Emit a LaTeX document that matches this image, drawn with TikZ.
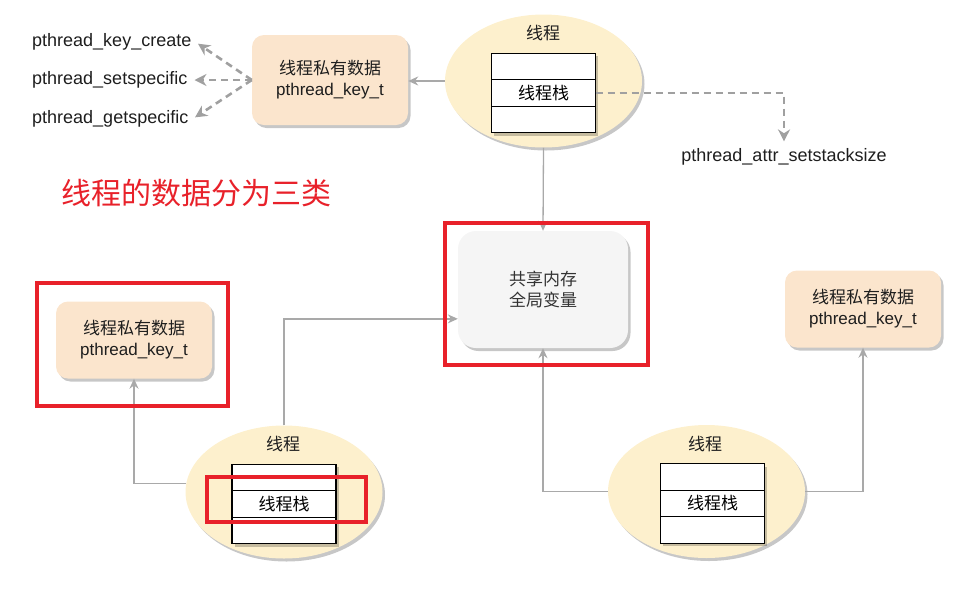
\documentclass[tikz,border=0pt]{standalone}
\usepackage{fontspec}
\setmainfont{Liberation Sans}
\newfontfamily\cjk{Noto Sans CJK SC}
\usepackage{xcolor}
\usetikzlibrary{shapes.geometric,arrows.meta,calc,positioning,shadows}
\definecolor{threadfill}{HTML}{FDF0CD}
\definecolor{keyfill}{HTML}{FBE5CD}
\definecolor{memfill}{HTML}{F5F5F5}
\definecolor{linegray}{HTML}{A9A9A9}
\definecolor{dashgray}{HTML}{A0A0A0}
\definecolor{hlred}{HTML}{E8212A}
\definecolor{textdark}{HTML}{1E1E1E}
\tikzset{
	node distance=0pt,
	softshadow/.style={drop shadow={shadow xshift=2.5pt,shadow yshift=-3pt,fill=black,opacity=0.22}},
	thread/.style={ellipse, fill=threadfill, minimum width=197pt, minimum height=133pt, softshadow},
	stackrow/.style={rectangle, draw=black, line width=1.1pt, fill=white, minimum width=104pt, minimum height=26.5pt, inner sep=0pt, outer sep=0pt, font=\fontsize{17}{21}\selectfont\cjk, softshadow},
	tag/.style={font=\fontsize{17}{21}\selectfont\cjk, text=textdark},
	keybox/.style={rectangle, rounded corners=12pt, fill=keyfill, minimum width=156pt, minimum height=77pt, align=center, text=textdark, font=\fontsize{17}{21}\selectfont, softshadow},
	membox/.style={rectangle, rounded corners=18pt, fill=memfill, minimum width=170pt, minimum height=117pt, align=center, text=black!80, font=\fontsize{17}{21}\selectfont\cjk, softshadow},
	api/.style={font=\fontsize{18}{22}\selectfont, inner sep=4pt, text=textdark},
	link/.style={draw=linegray, line width=1.3pt, -{Stealth[length=10pt,width=9pt]}},
	dlink/.style={draw=dashgray, line width=2.6pt, dash pattern=on 7pt off 5pt, shorten >=3pt, -{Stealth[length=12pt,width=12pt]}},
	hv/.style={to path={-| (\tikztotarget)}},
	vh/.style={to path={|- (\tikztotarget)}},
	hl/.style={draw=hlred, line width=3.5pt}
}

\begin{document}
\begin{tikzpicture}[x=1pt, y=-1pt]
    \useasboundingbox (0,0) rectangle (972,606);

    % threads
    \node[thread] (th1) at (543.5,81) {};
    \node[stackrow] (s1a) at (543.5,66.5) {};
    \node[stackrow, below=of s1a] (s1b) {线程栈};
    \node[stackrow, below=of s1b] (s1c) {};
    \node[tag] (t1) at (543,33) {线程};

    \node[thread] (th2) at (284,492) {};
    \node[stackrow] (s2a) at (284,477.5) {};
    \node[stackrow, below=of s2a] (s2b) {线程栈};
    \node[stackrow, below=of s2b] (s2c) {};
    \node[tag] (t2) at (283,444) {线程};

    \node[thread] (th3) at (706.5,491.5) {};
    \node[stackrow] (s3a) at (712.5,477) {};
    \node[stackrow, below=of s3a] (s3b) {线程栈};
    \node[stackrow, below=of s3b] (s3c) {};
    \node[tag] (t3) at (705,444) {线程};

    % data
    \node[keybox, minimum height=90pt] (pk1) at (330,80) {{\cjk 线程私有数据}\\pthread\_key\_t};
    \node[keybox] (pk2) at (134,340) {{\cjk 线程私有数据}\\pthread\_key\_t};
    \node[keybox] (pk3) at (863,309) {{\cjk 线程私有数据}\\pthread\_key\_t};
    \node[membox] (shm) at (543,289.5) {共享内存\\全局变量};

    % api names
    \node[api, anchor=west] (kc) at (28,42) {pthread\_key\_create};
    \node[api, anchor=west] (ks) at (28,80) {pthread\_setspecific};
    \node[api, anchor=west] (kg) at (28,119) {pthread\_getspecific};
    \node[api] (attr) at (784,157) {pthread\_attr\_setstacksize};

    \node[font=\fontsize{30}{36}\selectfont\cjk, text=hlred] (title) at (196,193) {线程的数据分为三类};

    \path (th1.west) edge[link] (th1.west -| pk1.east);
    \path (th1.south) edge[link] (shm.north);
    \path (th2.175) edge[link, hv] (pk2.south);
    \path (th2.north) edge[link, vh] ($(shm.south west)!0.25!(shm.north west)$);
    \path (th3.west) edge[link, hv] (shm.south);
    \path (th3.east) edge[link, hv] (pk3.south);

    \path (pk1.west) edge[dlink] (kc.east);
    \path (pk1.west) edge[dlink] (ks.east);
    \path (pk1.west) edge[dlink] (kg.east);
    \path (s1b.east) edge[dlink, hv] (attr.north);

    % highlights
    \draw[hl] (445,223) rectangle (648,365);
    \draw[hl] (37,283) rectangle (228,406);
    \draw[hl] (207,477) rectangle (366,522);
\end{tikzpicture}
\end{document}
